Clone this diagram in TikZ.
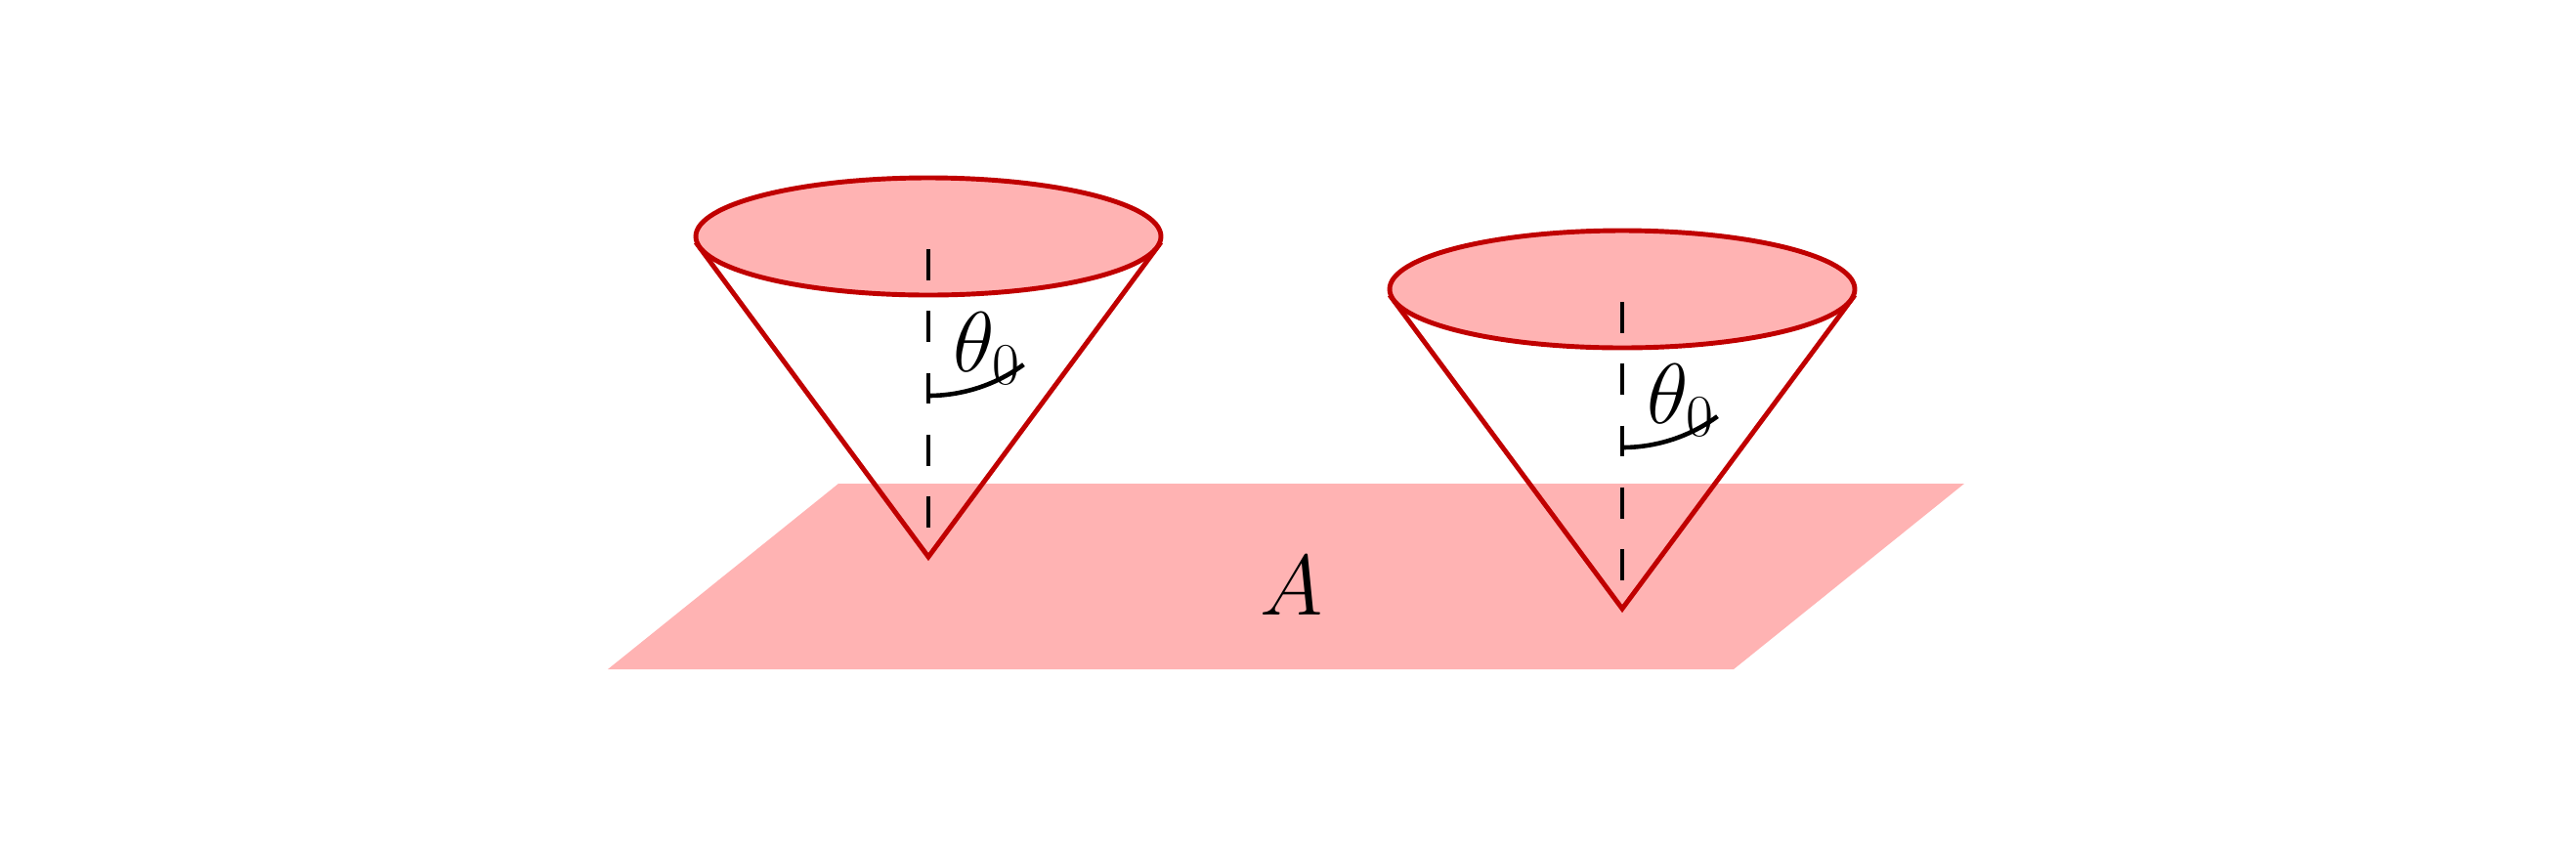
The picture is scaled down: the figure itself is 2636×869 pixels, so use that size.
\documentclass[tikz,border=0pt]{standalone}
\begin{document}
\begin{tikzpicture}[x=0.01cm,y=-0.01cm,
  conel/.style={draw={rgb,255:red,192;green,0;blue,0},line width=1.4pt},
  dashv/.style={draw=black,line width=1.4pt,dash pattern=on 9pt off 9pt},
  arcl/.style={draw=black,line width=1.3pt},
  lbl/.style={font=\fontsize{24}{28}\selectfont}]
\definecolor{pinkf}{RGB}{255,179,179}
\useasboundingbox (0,0) rectangle (2636,869);
\fill[pinkf] (858,495) -- (2010,495) -- (1774,685) -- (622,685) -- cycle;
\node[lbl] (A) at (1322,600) {$A$};
\foreach \cx/\ty/\ay/\n in {950/242/570/one,1660/296/623/two}{
  \coordinate (apex\n) at (\cx,\ay);
  \coordinate (l\n) at (\cx-238,\ty+6);
  \coordinate (r\n) at (\cx+238,\ty+6);
  \draw[conel] (l\n) -- (apex\n) -- (r\n);
  \draw[conel,fill=pinkf] (\cx,\ty) ellipse [x radius=238,y radius=60];
  \coordinate (top\n) at (\cx,\ty+13);
  \draw[dashv] (top\n) -- (apex\n);
  \draw[arcl] (\cx,\ay-165) arc[start angle=90,end angle=53.8,radius=165];
  \node[lbl] (t\n) at (\cx+60,\ay-213) {$\theta_0$};
}
\end{tikzpicture}
\end{document}
